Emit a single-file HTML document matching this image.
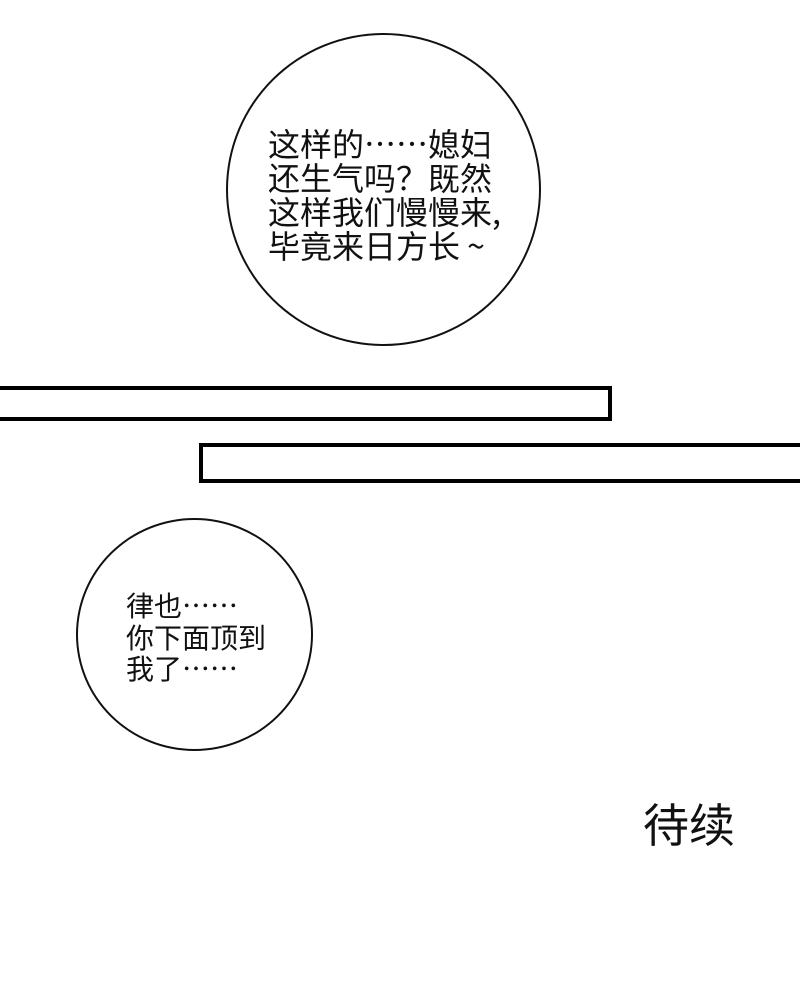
<!DOCTYPE html>
<html><head><meta charset="utf-8"><style>
html,body{margin:0;padding:0;background:#fff;}
body{width:800px;height:1000px;position:relative;overflow:hidden;font-family:"Noto Sans CJK SC","Liberation Sans",sans-serif;color:#111;}
.c{position:absolute;border:2px solid #111;border-radius:50%;box-sizing:border-box;background:#fff;}
.t{position:absolute;white-space:nowrap;}
.r{position:absolute;border:4px solid #000;box-sizing:border-box;}
</style></head><body>
<div class="c" style="left:226px;top:33px;width:315px;height:313px;"></div>
<div class="t" style="left:268px;top:126px;font-size:32px;line-height:34px;">这样的……媳妇<br>还生气吗？既然<br>这样我们慢慢来,<br>毕竟来日方长 ~</div>
<div class="r" style="left:-10px;top:386px;width:622px;height:35px;"></div>
<div class="r" style="left:199px;top:443px;width:620px;height:40px;"></div>
<div class="c" style="left:76px;top:518px;width:237px;height:233px;"></div>
<div class="t" style="left:126px;top:590px;font-size:28px;line-height:31.5px;">律也……<br>你下面顶到<br>我了……</div>
<div class="t" style="left:643px;top:797px;font-size:46px;line-height:52px;font-weight:normal;">待续</div>
</body></html>
